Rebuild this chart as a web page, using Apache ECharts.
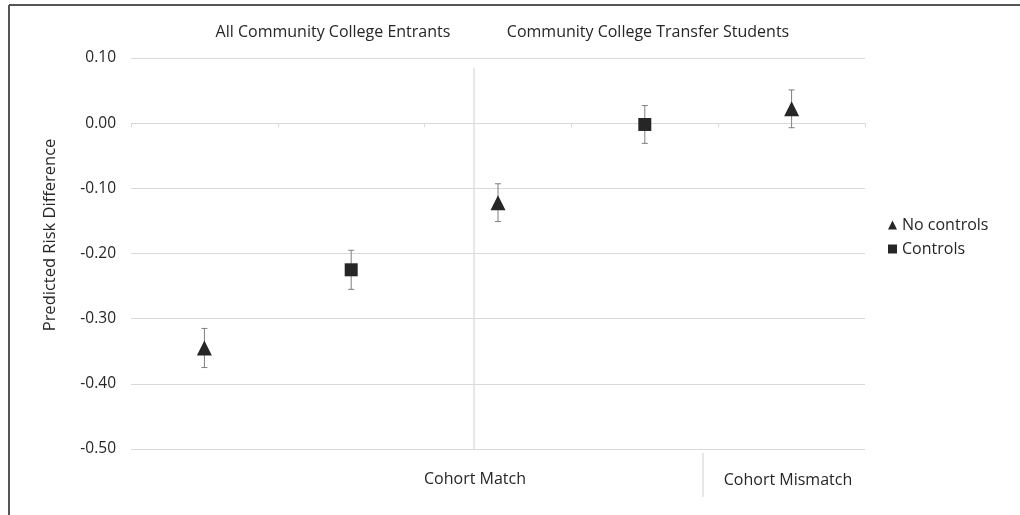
<!DOCTYPE html>
<html>
<head>
<meta charset="utf-8">
<script src="https://cdn.jsdelivr.net/npm/echarts@6/dist/echarts.min.js"></script>
<style>
  html, body { margin: 0; padding: 0; background: #fff; }
  #chart { width: 1020px; height: 515px; }
</style>
</head>
<body>
<div id="chart"></div>
<script>
// five slots along the x axis, no labels of their own
const categories = ['c1', 'c2', 'c3', 'c4', 'c5']

// point estimates (category index, value)
const noControls = [[0, -0.345], [2, -0.122], [4, 0.022]]
const controls = [[1, -0.225], [3, -0.002]]

// error bars (category index, low, high)
const errorBars = [
  [0, -0.375, -0.315],
  [1, -0.255, -0.195],
  [2, -0.151, -0.093],
  [3, -0.031, 0.027],
  [4, -0.007, 0.051]
]

const yTicks = { min: -0.5, max: 0.1, step: 0.1 }
const font = 'Open Sans'
const ink = '#262626'

const chart = echarts.init(document.getElementById('chart'))

const label = (text, x, y, size, rotation) => ({
  type: 'text', x, y, rotation: rotation || 0,
  style: { text, font: size + 'px "Open Sans"', fill: ink, textAlign: 'center', textVerticalAlign: 'middle' }
})

const option = {
  backgroundColor: '#fff',
  textStyle: { fontFamily: font },
  animation: false,
  grid: { left: 131, right: 155, top: 58, bottom: 66 },
  legend: {
    orient: 'vertical',
    left: 883,
    top: 212,
    itemWidth: 9,
    itemHeight: 9,
    itemGap: 8,
    textStyle: { fontFamily: font, fontSize: 16, color: ink },
    data: ['No controls', 'Controls']
  },
  xAxis: {
    type: 'category',
    data: categories,
    boundaryGap: true,
    axisLine: { onZero: true, lineStyle: { color: '#d9d9d9', width: 1 } },
    axisTick: { show: true, length: 4, lineStyle: { color: '#d9d9d9' } },
    axisLabel: { show: false },
    splitLine: { show: false }
  },
  yAxis: {
    type: 'value',
    min: yTicks.min,
    max: yTicks.max,
    interval: yTicks.step,
    axisLine: { show: false },
    axisTick: { show: false },
    axisLabel: {
      fontFamily: font,
      fontSize: 15.5,
      color: ink,
      margin: 15,
      formatter: v => (Math.abs(v) < 1e-9 ? 0 : v).toFixed(2)
    },
    splitLine: { lineStyle: { color: '#d9d9d9', width: 1 } }
  },
  series: [
    {
      name: 'errors',
      type: 'custom',
      data: errorBars,
      z: 1,
      renderItem: (params, api) => {
        const x = api.value(0)
        const lo = api.coord([x, api.value(1)])
        const hi = api.coord([x, api.value(2)])
        const cap = 3
        const style = { stroke: '#7f7f7f', lineWidth: 1 }
        return {
          type: 'group',
          children: [
            { type: 'line', shape: { x1: lo[0], y1: lo[1], x2: hi[0], y2: hi[1] }, style },
            { type: 'line', shape: { x1: lo[0] - cap, y1: lo[1], x2: lo[0] + cap, y2: lo[1] }, style },
            { type: 'line', shape: { x1: hi[0] - cap, y1: hi[1], x2: hi[0] + cap, y2: hi[1] }, style }
          ]
        }
      }
    },
    {
      name: 'No controls',
      type: 'scatter',
      symbol: 'triangle',
      symbolSize: 15,
      z: 3,
      itemStyle: { color: ink, opacity: 1 },
      data: noControls
    },
    {
      name: 'Controls',
      type: 'scatter',
      symbol: 'rect',
      symbolSize: 13,
      z: 3,
      itemStyle: { color: ink, opacity: 1 },
      data: controls
    }
  ],
  graphic: [
    // frame (top and left edges only)
    { type: 'line', shape: { x1: 9, y1: 5, x2: 1020, y2: 5 }, style: { stroke: '#555', lineWidth: 2 } },
    { type: 'line', shape: { x1: 9, y1: 5, x2: 9, y2: 515 }, style: { stroke: '#555', lineWidth: 2 } },
    // dividers
    { type: 'line', shape: { x1: 474, y1: 68, x2: 474, y2: 450 }, style: { stroke: '#d0d0d0', lineWidth: 1 } },
    { type: 'line', shape: { x1: 703, y1: 453, x2: 703, y2: 497 }, style: { stroke: '#d0d0d0', lineWidth: 1 } },
    // axis name and group labels
    label('Predicted Risk Difference', 50, 235, 16.5, Math.PI / 2),
    label('All Community College Entrants', 333, 32, 16),
    label('Community College Transfer Students', 648, 32, 16),
    label('Cohort Match', 475, 479, 16),
    label('Cohort Mismatch', 788, 480, 16)
  ]
}

chart.setOption(option)
window.addEventListener('resize', () => { chart.resize() })
</script>
</body>
</html>
